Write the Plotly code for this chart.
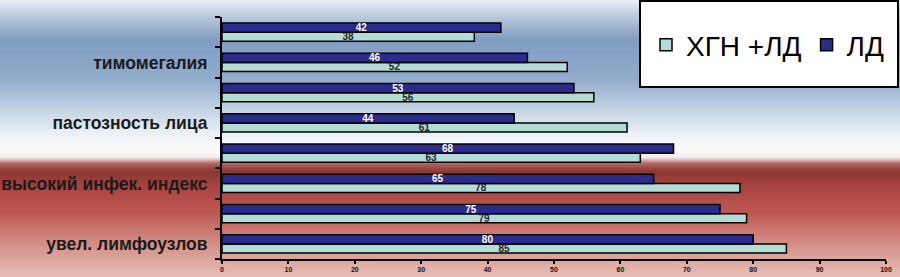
import plotly.graph_objects as go

categories = ["увел. лимфоузлов", "cat7", "высокий инфек. индекс", "cat5",
              "пастозность лица", "cat3", "тимомегалия", "cat1"]
tick_labels = ["увел. лимфоузлов", "", "высокий инфек. индекс", "",
               "пастозность лица", "", "тимомегалия", ""]
series_names = ["ХГН +ЛД", "ЛД"]
hgn_ld = [85, 79, 78, 63, 61, 56, 52, 38]
ld = [80, 75, 65, 68, 44, 53, 46, 42]
x_ticks = [0, 10, 20, 30, 40, 50, 60, 70, 80, 90, 100]

W, H = 900, 277
L, R, T, B = 222, 14, 17, 18
PW, PH = W - L - R, H - T - B

fig = go.Figure()
fig.add_trace(go.Bar(
    y=categories, x=hgn_ld, orientation="h", name=series_names[0],
    marker=dict(color="#b4dcd6", line=dict(color="black", width=1.5)),
    text=hgn_ld, textposition="inside", insidetextanchor="middle",
    textfont=dict(family="Liberation Sans", size=10, color="#1a2a2a", weight="bold"),
    textangle=0,
))
fig.add_trace(go.Bar(
    y=categories, x=ld, orientation="h", name=series_names[1],
    marker=dict(color="#2b2b8e", line=dict(color="black", width=1.5)),
    text=ld, textposition="inside", insidetextanchor="middle",
    textfont=dict(family="Liberation Sans", size=10, color="white", weight="bold"),
    textangle=0,
))

def py2paper(py):
    return 1 - (py - T) / PH

def px2paper(px):
    return (px - L) / PW

# background gradient bands (paper coordinates)
stops = [
    (0, (232, 238, 244)), (15, (190, 206, 222)), (40, (128, 156, 193)),
    (80, (146, 172, 204)), (110, (196, 212, 227)), (135, (236, 241, 246)),
    (150, (252, 252, 253)), (158, (245, 238, 238)), (164, (176, 100, 96)),
    (172, (140, 54, 48)), (190, (172, 70, 66)), (215, (192, 90, 85)),
    (240, (208, 136, 128)), (265, (224, 172, 164)), (277, (232, 190, 182)),
]
def col_at(y):
    for (y0, c0), (y1, c1) in zip(stops[:-1], stops[1:]):
        if y0 <= y <= y1:
            t = (y - y0) / (y1 - y0) if y1 > y0 else 0
            return tuple(int(round(a + (b - a) * t)) for a, b in zip(c0, c1))
    return stops[-1][1]

shapes = []
step = 2
for y in range(0, H, step):
    c = col_at(y + step / 2)
    shapes.append(dict(type="rect", xref="paper", yref="paper",
                       x0=px2paper(-20), x1=px2paper(W + 20),
                       y0=py2paper(y + step + 0.5), y1=py2paper(y - 0.5),
                       fillcolor="rgb(%d,%d,%d)" % c, line=dict(width=0),
                       layer="below"))
# legend box
shapes.append(dict(type="rect", xref="paper", yref="paper",
                   x0=px2paper(640), x1=px2paper(898),
                   y0=py2paper(87), y1=py2paper(1),
                   fillcolor="white", line=dict(color="black", width=2),
                   layer="above"))

fig.update_layout(
    width=W, height=H,
    margin=dict(l=L, r=R, t=T, b=B, autoexpand=False),
    paper_bgcolor="white", plot_bgcolor="rgba(0,0,0,0)",
    barmode="group", bargap=0.4, bargroupgap=0.0,
    shapes=shapes,
    showlegend=True,
    legend=dict(
        x=px2paper(646), xanchor="left", y=py2paper(45), yanchor="middle",
        orientation="h", bgcolor="rgba(0,0,0,0)", borderwidth=0,
        font=dict(family="Liberation Sans", size=28, color="black"),
        itemwidth=30, traceorder="normal",
    ),
    xaxis=dict(
        range=[0, 100], tickvals=x_ticks, ticktext=[str(v) for v in x_ticks],
        showgrid=False, zeroline=False, showline=True, linecolor="black", linewidth=2,
        ticks="outside", ticklen=3, tickcolor="black", tickwidth=2,
        tickfont=dict(family="Liberation Sans", size=7, color="#111", weight="bold"),
    ),
    yaxis=dict(
        categoryorder="array", categoryarray=categories,
        tickvals=categories, ticktext=tick_labels,
        showgrid=False, showline=True, linecolor="black", linewidth=2,
        ticks="outside", ticklen=5, tickcolor="black", tickwidth=2,
        tickson="boundaries",
        tickfont=dict(family="Liberation Sans", size=17.5, color="#1a1a1a", weight="bold"),
        ticklabelstandoff=9,
    ),
    uniformtext=dict(minsize=9, mode="show"),
)
fig.write_html("out.html", config={"displayModeBar": False},
               post_script="document.body.style.margin='0';document.body.style.overflow='hidden';")
